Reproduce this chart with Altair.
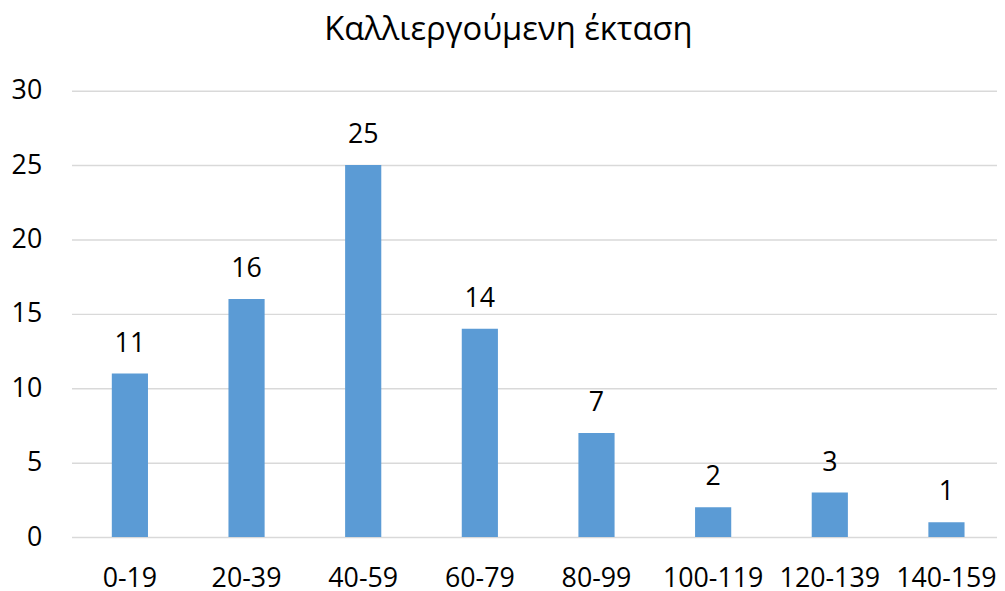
import altair as alt
import pandas as pd

categories = ["0-19", "20-39", "40-59", "60-79", "80-99", "100-119", "120-139", "140-159"]
values = [11, 16, 25, 14, 7, 2, 3, 1]
y_ticks = [0, 5, 10, 15, 20, 25, 30]
title_text = "Καλλιεργούμενη έκταση"

df = pd.DataFrame({"cat": categories, "val": values})

FONT = "Open Sans"

x_enc = alt.X(
    "cat:N",
    sort=categories,
    title=None,
    scale=alt.Scale(paddingInner=0.69, paddingOuter=0.312, align=0.554),
    axis=alt.Axis(
        labelAngle=0, labelFont=FONT, labelFontSize=27, labelColor="#000000",
        ticks=False, domain=False, labelPadding=29, grid=False, labelOverlap=False,
        labelFlush=False,
    ),
)

base = alt.Chart(df)

bars = base.mark_bar(color="#5B9BD5").encode(
    x=x_enc,
    y=alt.Y(
        "val:Q",
        title=None,
        scale=alt.Scale(domain=[0, 30], nice=False),
        axis=alt.Axis(
            values=y_ticks, labelFont=FONT, labelFontSize=27, labelColor="#000000",
            ticks=False, domain=False, labelPadding=30, grid=True,
            gridColor="#D9D9D9", gridWidth=1.5,
        ),
    ),
)

labels = base.mark_text(
    font=FONT, fontSize=27, color="#000000", baseline="middle", dy=-30
).encode(
    x=alt.X("cat:N", sort=categories),
    y=alt.Y("val:Q"),
    text=alt.Text("val:Q"),
)

chart = (
    alt.layer(bars, labels)
    .properties(
        width=933,
        height=450,
        autosize=alt.AutoSizeParams(type="none"),
        padding={"left": 64, "top": 81, "right": 0, "bottom": 52},
        title=alt.TitleParams(
            text=title_text, font=FONT, fontSize=33, fontWeight="normal",
            color="#000000", anchor="middle", frame="group", baseline="alphabetic",
            offset=4, dx=-26,
        ),
    )
    .configure_view(stroke=None)
)

chart.save("out.html", embed_options={"renderer": "svg", "actions": False})
